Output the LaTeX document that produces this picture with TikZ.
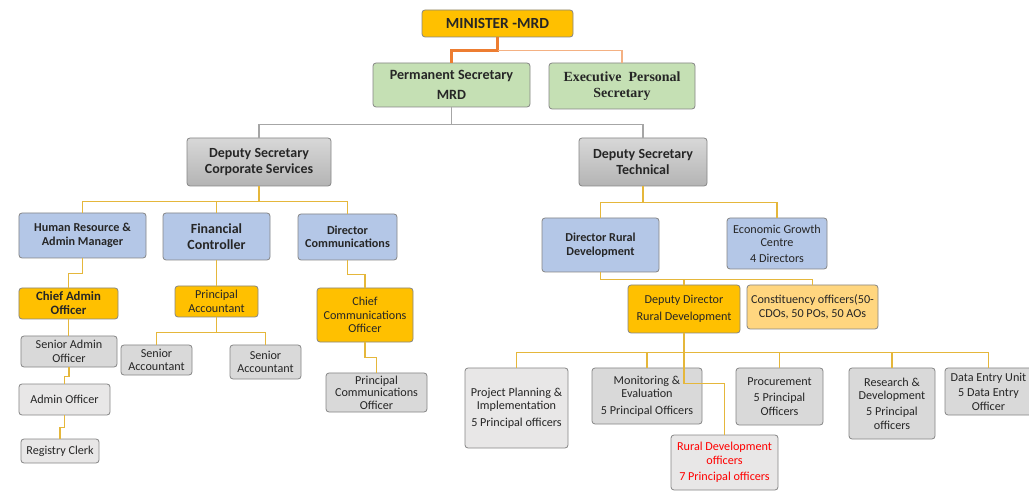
\documentclass[tikz,border=0pt]{standalone}
\usepackage{fontspec}
\setmainfont{Carlito}
\newfontfamily\serifbold{Liberation Serif}
\definecolor{mrdorange}{HTML}{FFC000}
\definecolor{mrdgreen}{HTML}{C5E0B4}
\definecolor{mrdblue}{HTML}{B4C7E7}
\definecolor{mrdgreytop}{HTML}{D8D8D8}
\definecolor{mrdgreybot}{HTML}{B4B4B4}
\definecolor{leafgrey}{HTML}{D9D9D9}
\definecolor{palegrey}{HTML}{E8E7E7}
\definecolor{paleorange}{HTML}{FFD67F}
\definecolor{boxline}{HTML}{858585}
\definecolor{linegold}{HTML}{E5B73B}
\definecolor{linegrey}{HTML}{A6A6A6}
\definecolor{lineorange}{HTML}{ED7D31}
\definecolor{linepeach}{HTML}{F4B183}
\begin{document}
\begin{tikzpicture}[x=1bp,y=-1bp,
    box/.style={draw=boxline, rounded corners=3bp, line width=0.8bp, align=center,
      inner sep=1bp, text=black!85, font=\fontsize{12.2}{13.5}\selectfont},
    boldbox/.style={box, font=\fontsize{12.2}{13.5}\selectfont\bfseries},
    big/.style={font=\fontsize{14}{16}\selectfont\bfseries},
    dsbox/.style={box, big, top color=mrdgreytop, bottom color=mrdgreybot},
    link/.style={draw=linegold, line width=1.4bp}]
    \useasboundingbox (0,0) rectangle (1029,491);
    % top of the ministry
    \node[box, fill=mrdorange, minimum width=151bp, minimum height=27bp,
      font=\fontsize{15.5}{17}\selectfont\bfseries] (minister) at (497.5,23.5) {MINISTER -MRD};
    \node[box, fill=mrdgreen, minimum width=157bp, minimum height=44bp,
      font=\fontsize{14.2}{16}\selectfont\bfseries] (permsec) at (451.5,85) {Permanent Secretary\\[4bp]MRD};
    \node[box, fill=mrdgreen, minimum width=146bp, minimum height=46bp,
      font=\fontsize{14}{16}\selectfont\serifbold\bfseries] (execsec) at (622,86) {Executive~~Personal\\Secretary};
    \node[dsbox, minimum width=144bp, minimum height=48bp] (dscorp) at (259,162) {Deputy Secretary\\Corporate Services};
    \node[dsbox, minimum width=128bp, minimum height=48bp] (dstech) at (643,162) {Deputy Secretary\\Technical};
    % corporate services
    \node[boldbox, fill=mrdblue, minimum width=127bp, minimum height=45bp] (hradmin) at (82.5,235.5) {Human Resource \&\\Admin Manager};
    \node[box, big, fill=mrdblue, minimum width=107bp, minimum height=47bp] (fincon) at (216.5,236.5) {Financial\\Controller};
    \node[boldbox, fill=mrdblue, minimum width=99bp, minimum height=46bp] (dircomm) at (347.5,237) {Director\\Communications};
    \node[boldbox, fill=mrdorange, minimum width=99bp, minimum height=31bp,
      font=\fontsize{12.8}{14}\selectfont\bfseries] (chiefadmin) at (68.5,303.5) {Chief Admin\\Officer};
    \node[box, fill=leafgrey, minimum width=96bp, minimum height=31bp] (senadmin) at (69,351.5) {Senior Admin\\Officer};
    \node[box, fill=palegrey, minimum width=91bp, minimum height=31bp] (adminoff) at (64.5,399.5) {Admin Officer};
    \node[box, fill=palegrey, minimum width=78bp, minimum height=24bp] (registry) at (60,451) {Registry Clerk};
    \node[box, fill=mrdorange, minimum width=83bp, minimum height=31bp] (princacc) at (216.5,301.5) {Principal\\Accountant};
    \node[box, fill=leafgrey, minimum width=71bp, minimum height=30bp] (senacc1) at (156.5,360) {Senior\\Accountant};
    \node[box, fill=leafgrey, minimum width=71bp, minimum height=34bp] (senacc2) at (265.5,362) {Senior\\Accountant};
    \node[box, fill=mrdorange, minimum width=96bp, minimum height=54bp] (chiefcomm) at (365,315) {Chief\\Communications\\Officer};
    \node[box, fill=leafgrey, minimum width=101bp, minimum height=39bp, inner sep=0pt,
      font=\fontsize{12.2}{12.6}\selectfont] (princcomm) at (376.5,392.5) {Principal\\Communications\\Officer};
    % technical
    \node[boldbox, fill=mrdblue, minimum width=117bp, minimum height=54bp] (dirrural) at (600.5,245) {Director Rural\\Development};
    \node[box, fill=mrdblue, minimum width=100bp, minimum height=51bp] (econgrowth) at (777,243.5) {Economic Growth\\Centre\\[2bp]4 Directors};
    \node[box, fill=mrdorange, minimum width=112bp, minimum height=48bp] (deprural) at (684,309) {Deputy Director\\[3bp]Rural Development};
    \node[box, fill=paleorange, minimum width=131bp, minimum height=44bp] (constit) at (812.5,307) {Constituency officers(50-\\CDOs, 50 POs, 50 AOs};
    \node[box, fill=palegrey, minimum width=103bp, minimum height=80bp] (projplan) at (516.5,408) {Project Planning \&\\Implementation\\[3bp]5 Principal officers};
    \node[box, fill=leafgrey, minimum width=110bp, minimum height=56bp] (monitor) at (647,396) {Monitoring \&\\Evaluation\\[3bp]5 Principal Officers};
    \node[box, fill=leafgrey, minimum width=87bp, minimum height=57bp] (procure) at (779.5,396.5) {Procurement\\[3bp]5 Principal\\Officers};
    \node[box, fill=leafgrey, minimum width=86bp, minimum height=71bp] (research) at (892,403.5) {Research \&\\Development\\[3bp]5 Principal\\officers};
    \node[box, fill=leafgrey, minimum width=87bp, minimum height=47bp] (dataentry) at (988.5,391.5) {Data Entry Unit\\[2bp]5 Data Entry\\Officer};
    \node[box, fill=palegrey, minimum width=107bp, minimum height=55bp, text=red] (ruraldev) at (724.5,462.5) {Rural Development\\officers\\[3bp]7 Principal officers};
    % reporting lines
    \draw[lineorange, line width=2.4bp] (minister.south) -- ++(0,13) -| (permsec.north);
    \draw[linepeach, line width=1.4bp] (minister.south) ++(0,13) -| (execsec.north);
    \draw[linegrey, line width=1.4bp] (permsec.south) -- ++(0,17) -| (dscorp.north);
    \draw[linegrey, line width=1.4bp] (permsec.south) ++(0,17) -| (dstech.north);
    \foreach \n in {hradmin,fincon,dircomm}
      \draw[link] (dscorp.south) -- ++(0,15) -| (\n.north);
    \draw[link] (hradmin.south) -- ++(0,15) -| (chiefadmin.north);
    \draw[link] (chiefadmin.south) -- (chiefadmin.south |- senadmin.north);
    \draw[link] (senadmin.south) -- ++(0,9) -| (adminoff.north);
    \draw[link] (adminoff.south) -- ++(0,12) -| (registry.north);
    \draw[link] (fincon.south) -- (princacc.north);
    \foreach \n in {senacc1,senacc2}
      \draw[link] (princacc.south) -- ++(0,15) -| (\n.north);
    \draw[link] (dircomm.south) -- ++(0,14) -| (chiefcomm.north);
    \draw[link] (chiefcomm.south) -- ++(0,15) -| (princcomm.north);
    \foreach \n in {dirrural,econgrowth}
      \draw[link] (dstech.south) -- ++(0,16) -| (\n.north);
    \foreach \n in {deprural,constit}
      \draw[link] (dirrural.south) -- ++(0,7) -| (\n.north);
    \foreach \n in {projplan,monitor,procure,research,dataentry}
      \draw[link] (deprural.south) -- ++(0,19) -| (\n.north);
    \draw[link] (deprural.south) -- ++(0,50) -| (ruraldev.north);
\end{tikzpicture}
\end{document}
